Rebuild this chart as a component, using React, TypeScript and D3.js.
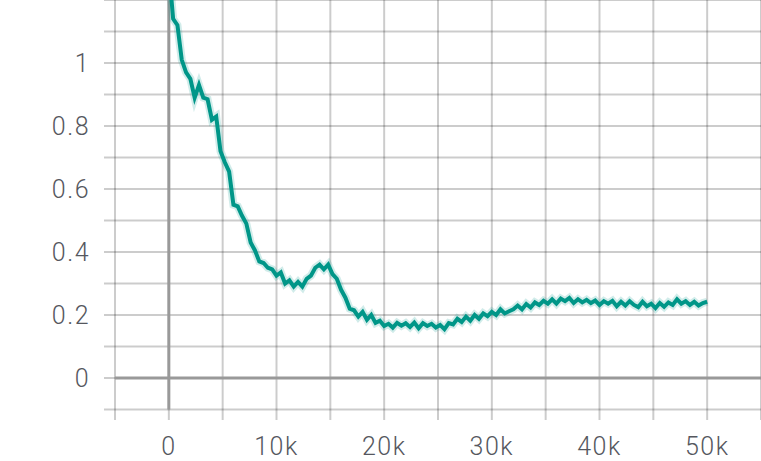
import React from "react";
import * as d3 from "d3";

const steps: number[] = d3.range(0, 50001, 400);
const values: number[] = [
  1.30, 1.14, 1.12, 1.01, 0.97, 0.95, 0.89, 0.93, 0.89, 0.885,
  0.82, 0.83, 0.72, 0.685, 0.655, 0.55, 0.545, 0.515, 0.49, 0.43,
  0.405, 0.37, 0.365, 0.35, 0.345, 0.325, 0.335, 0.30, 0.31, 0.29,
  0.305, 0.29, 0.315, 0.325, 0.35, 0.36, 0.345, 0.36, 0.33, 0.315,
  0.28, 0.255, 0.22, 0.215, 0.195, 0.21, 0.185, 0.20, 0.175, 0.182,
  0.165, 0.172, 0.16, 0.175, 0.166, 0.174, 0.162, 0.176, 0.158, 0.174,
  0.165, 0.172, 0.16, 0.168, 0.155, 0.174, 0.17, 0.188, 0.178, 0.195,
  0.182, 0.2, 0.188, 0.205, 0.196, 0.21, 0.2, 0.218, 0.205, 0.212,
  0.218, 0.23, 0.218, 0.235, 0.224, 0.24, 0.232, 0.245, 0.236, 0.25,
  0.236, 0.252, 0.244, 0.254, 0.238, 0.25, 0.24, 0.248, 0.238, 0.246,
  0.232, 0.244, 0.236, 0.245, 0.228, 0.242, 0.23, 0.244, 0.232, 0.225,
  0.242, 0.228, 0.236, 0.222, 0.238, 0.226, 0.24, 0.232, 0.25, 0.236,
  0.244, 0.232, 0.242, 0.23, 0.238, 0.242,
];

const xGridTicks: number[] = d3.range(-5000, 55001, 5000);
const xLabelTicks: number[] = [0, 10000, 20000, 30000, 40000, 50000];
const xLabels: string[] = ["0", "10k", "20k", "30k", "40k", "50k"];
const yGridTicks: number[] = d3.range(-0.1, 1.21, 0.1).map((v) => Math.round(v * 10) / 10);
const yLabelTicks: number[] = [0, 0.2, 0.4, 0.6, 0.8, 1];
const yLabels: string[] = ["0", "0.2", "0.4", "0.6", "0.8", "1"];

export default function App() {
  const W = 761;
  const H = 461;
  const left = 115;
  const right = 761;
  const top = 0;
  const bottom = 409.5;
  const x = d3.scaleLinear().domain([-5000, 55000]).range([left, right]);
  const y = d3.scaleLinear().domain([-0.1, 1.2]).range([bottom, top]);
  const data = steps.map((s, i) => ({ s, v: values[i] }));
  const line = d3
    .line<{ s: number; v: number }>()
    .x((d) => x(d.s))
    .y((d) => y(d.v));
  const path = line(data) || "";
  const gridColor = "rgba(0,0,0,0.2)";
  const font = "Roboto, 'Noto Sans', sans-serif";
  return (
    <svg
      width={W}
      height={H}
      style={{ position: "absolute", left: 0, top: 0, background: "#fff" }}
    >
      <defs>
        <clipPath id="plotclip">
          <rect x={left} y={top} width={right - left} height={bottom - top} />
        </clipPath>
      </defs>
      {yGridTicks.map((t) => (
        <line
          key={"hy" + t}
          x1={104}
          x2={right}
          y1={y(t)}
          y2={y(t)}
          stroke={gridColor}
          strokeWidth={2}
        />
      ))}
      {xGridTicks.map((t) => (
        <line
          key={"vx" + t}
          x1={x(t)}
          x2={x(t)}
          y1={top}
          y2={420}
          stroke={gridColor}
          strokeWidth={2}
        />
      ))}
      <line x1={left} x2={right} y1={y(0)} y2={y(0)} stroke="#999" strokeWidth={3} />
      <line x1={x(0)} x2={x(0)} y1={top} y2={bottom} stroke="#999" strokeWidth={3} />
      <g clipPath="url(#plotclip)">
        <path
          d={path}
          fill="none"
          stroke="#009688"
          strokeOpacity={0.18}
          strokeWidth={8}
          strokeLinejoin="miter"
        />
        <path
          d={path}
          fill="none"
          stroke="#009688"
          strokeWidth={4}
          strokeLinejoin="miter"
        />
      </g>
      {yLabelTicks.map((t, i) => (
        <text
          key={"yl" + t}
          x={90}
          y={y(t)}
          dy="0.36em"
          textAnchor="end"
          fontFamily={font}
          fontWeight={300}
          fontSize={25}
          letterSpacing={1.5}
          fill="#55575e"
        >
          {yLabels[i]}
        </text>
      ))}
      {xLabelTicks.map((t, i) => (
        <text
          key={"xl" + t}
          x={x(t)}
          y={455}
          textAnchor="middle"
          fontFamily={font}
          fontWeight={300}
          fontSize={25}
          letterSpacing={1.5}
          fill="#55575e"
        >
          {xLabels[i]}
        </text>
      ))}
    </svg>
  );
}
